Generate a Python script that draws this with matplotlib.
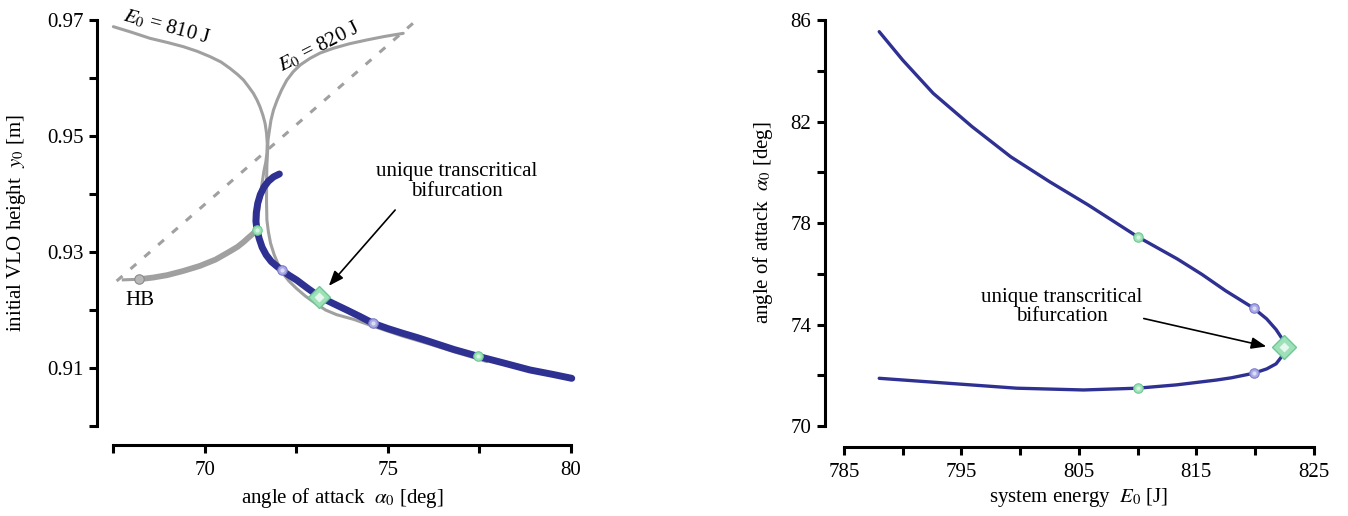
import matplotlib
matplotlib.use("Agg")
import matplotlib.pyplot as plt

plt.rcParams['font.family'] = ['Liberation Serif', 'DejaVu Serif']
plt.rcParams['mathtext.fontset'] = 'stix'

# ---- left panel data (angle of attack vs VLO height) ----
# E0 = 810 J branch, from the top left down to the transcritical curve
e810_alpha = [67.51, 68.0, 68.51, 69.0, 69.42, 69.8, 70.15, 70.45, 70.69, 70.9, 71.06, 71.2, 71.33, 71.43, 71.51, 71.59,
              71.65, 71.69, 71.71, 71.70, 71.67, 71.62, 71.56, 71.50, 71.46, 71.43]
e810_y = [0.96885, 0.96790, 0.96684, 0.96610, 0.96540, 0.96460, 0.96368, 0.96275, 0.96167, 0.96060, 0.95966, 0.95850,
          0.95736, 0.95620, 0.95506, 0.95360, 0.95219, 0.95050, 0.94874, 0.94700, 0.94550, 0.94400, 0.94150, 0.93850,
          0.93600, 0.93380]
# E0 = 820 J branch, from the top right down and along the transcritical curve
e820_alpha = [75.42, 74.9, 74.42, 73.95, 73.51, 73.15, 72.88, 72.62, 72.42, 72.24, 72.10, 71.98, 71.88, 71.81, 71.77,
              71.73, 71.72, 71.70, 71.69, 71.69, 71.70, 71.74, 71.80, 71.90, 72.00, 72.10, 72.30, 72.51, 72.75, 72.97,
              73.3, 73.6, 74.06, 74.6, 75.4, 76.15, 76.8, 77.5, 77.7]
e820_y = [0.96770, 0.96715, 0.96655, 0.96590, 0.96512, 0.96430, 0.96340, 0.96230, 0.96109, 0.95960, 0.95793, 0.95620,
          0.95448, 0.95270, 0.95103, 0.94930, 0.94759, 0.94500, 0.94200, 0.93850, 0.93550, 0.93350, 0.93150, 0.92950,
          0.92800, 0.92660, 0.92500, 0.92370, 0.92240, 0.92140, 0.92000, 0.91920, 0.91840, 0.91720, 0.91550, 0.91410,
          0.91280, 0.91150, 0.91110]
# stable branch from the Hopf bifurcation (HB)
hb_alpha = [68.22, 68.6, 68.97, 69.4, 69.87, 70.3, 70.69, 70.9, 71.06, 71.2, 71.33, 71.43]
hb_y = [0.9253, 0.9256, 0.9260, 0.9267, 0.9276, 0.9287, 0.9301, 0.9309, 0.9317, 0.9325, 0.9332, 0.9338]
hb_tail_alpha = [67.78, 68.22]
hb_tail_y = [0.9252, 0.9253]
# dashed reference line
dash_alpha = [67.6, 75.79]
dash_y = [0.9250, 0.9700]
# transcritical bifurcation curve
tc_alpha = [72.04, 71.88, 71.74, 71.62, 71.52, 71.45, 71.41, 71.40, 71.43, 71.49, 71.57, 71.68, 71.82, 71.96, 72.10,
            72.30, 72.51, 72.80, 73.13, 73.50, 73.88, 74.25, 74.60, 75.0, 75.4, 75.8, 76.15, 76.8, 77.47, 78.2, 78.88,
            79.5, 80.02]
tc_y = [0.94345, 0.94295, 0.94220, 0.94120, 0.93990, 0.93840, 0.93680, 0.93530, 0.93380, 0.93230, 0.93080, 0.92950,
        0.92835, 0.92760, 0.92690, 0.92600, 0.92517, 0.92380, 0.92230, 0.92115, 0.92000, 0.91885, 0.91770, 0.91680,
        0.91600, 0.91525, 0.91454, 0.91320, 0.91200, 0.91080, 0.90966, 0.90890, 0.90822]
green_left = ([71.43, 77.47], [0.9338, 0.9120])
purple_left = ([72.10, 74.60], [0.92690, 0.9177])
diamond_left = (73.13, 0.9223)
hb_point = (68.22, 0.9253)

# ---- right panel data (system energy vs angle of attack) ----
en_upper = [788.0, 790.0, 792.6, 795.9, 799.2, 802.5, 805.8, 810.0, 813.4, 815.5, 817.5, 819.9, 821.0, 821.8, 822.3, 822.5]
aoa_upper = [85.54, 84.42, 83.11, 81.80, 80.61, 79.63, 78.71, 77.46, 76.58, 75.97, 75.33, 74.64, 74.22, 73.80, 73.45, 73.10]
en_lower = [822.5, 822.3, 821.8, 821.0, 819.9, 818.0, 816.7, 813.3, 810.0, 805.4, 799.7, 794.0, 791.0, 788.0]
aoa_lower = [73.10, 72.75, 72.45, 72.25, 72.08, 71.90, 71.81, 71.62, 71.49, 71.42, 71.49, 71.68, 71.78, 71.88]
green_right = ([810.0, 810.0], [77.46, 71.49])
purple_right = ([819.9, 819.9], [74.64, 72.08])
diamond_right = (822.5, 73.10)

blue = '#2e3192'
grey = '#a0a0a0'
fs = 15

fig = plt.figure(figsize=(13.48, 5.16), dpi=100)
ax1 = fig.add_axes([97/1348, 90/516, 483/1348, 406/516])
ax2 = fig.add_axes([824.5/1348, 90/516, 497.5/1348, 406/516])


def style_axes(ax, xbounds, ybounds, xoff):
    for s in ['top', 'right']:
        ax.spines[s].set_visible(False)
    for s in ['left', 'bottom']:
        ax.spines[s].set_linewidth(2.2)
    ax.spines['bottom'].set_position(('outward', xoff))
    ax.spines['bottom'].set_bounds(*xbounds)
    ax.spines['left'].set_bounds(*ybounds)
    ax.tick_params(which='both', direction='out', length=5.5, width=2.2, labelsize=fs)
    ax.tick_params(axis='x', which='both', pad=6)
    ax.tick_params(axis='y', which='both', pad=4)


def dots(ax, xs, ys, face, edge):
    ax.plot(xs, ys, 'o', ms=6.8, mfc=face, mec=edge, mew=0.8, zorder=6, clip_on=False)
    ax.plot(xs, ys, 'o', ms=3, mfc='white', mec='none', alpha=0.6, zorder=7, clip_on=False)


def diamond(ax, x, y, size):
    ax.plot([x], [y], 'D', ms=size, mfc='#9ee0b8', mec='#6cc894', mew=1, zorder=8, clip_on=False)
    ax.plot([x], [y], 'D', ms=size * 0.45, mfc='#e6f8ee', mec='none', zorder=9, clip_on=False)


arrow_style = dict(arrowstyle='-|>,head_length=0.9,head_width=0.35', color='black', lw=1.2)

# ---- left panel ----
ax1.set_xlim(67.063, 80.245)
ax1.set_ylim(0.90, 0.97)
ax1.plot(dash_alpha, dash_y, color=grey, lw=2.2, ls=(0, (2.5, 3.5)), zorder=2, clip_on=False)
ax1.plot(e810_alpha, e810_y, color=grey, lw=2.2, zorder=3, clip_on=False, solid_capstyle='round', solid_joinstyle='round')
ax1.plot(e820_alpha, e820_y, color=grey, lw=2.2, zorder=3, clip_on=False, solid_capstyle='round', solid_joinstyle='round')
ax1.plot(hb_tail_alpha, hb_tail_y, color=grey, lw=2.2, zorder=3)
ax1.plot(hb_alpha, hb_y, color=grey, lw=4.2, zorder=3, solid_capstyle='round', solid_joinstyle='round')
ax1.plot(tc_alpha, tc_y, color=blue, lw=5, zorder=4, solid_capstyle='round', solid_joinstyle='round')
dots(ax1, *green_left, '#9fe2b8', '#6cc894')
dots(ax1, *purple_left, '#a9a9e6', '#7d7dc8')
ax1.plot([hb_point[0]], [hb_point[1]], 'o', ms=6.8, mfc='#b8b8b8', mec='#8a8a8a', mew=0.8, zorder=6)
diamond(ax1, *diamond_left, 11)

ax1.text(hb_point[0], 0.9217, 'HB', ha='center', va='center', fontsize=fs)
ax1.text(68.96, 0.9688, '$E_0$ = 810 J', rotation=-15, ha='center', va='center', fontsize=fs)
ax1.text(73.12, 0.9654, '$E_0$ = 820 J', rotation=27, ha='center', va='center', fontsize=fs)
ax1.text(76.89, 0.9422, 'unique transcritical\nbifurcation', ha='center', va='center',
         fontsize=fs, linespacing=1.05)
ax1.annotate('', xy=(73.34, 0.9238), xytext=(75.25, 0.9376), arrowprops=arrow_style)

ax1.set_xticks([70, 75, 80])
ax1.set_xticks([67.5, 72.5, 77.5], minor=True)
ax1.set_yticks([0.91, 0.93, 0.95, 0.97])
ax1.set_yticks([0.90, 0.92, 0.94, 0.96], minor=True)
ax1.set_yticklabels(['0.91', '0.93', '0.95', '0.97'])
style_axes(ax1, (67.5, 80), (0.90, 0.97), 13.7)
ax1.set_xlabel(r'angle of attack  $\alpha_0$ [deg]', fontsize=fs, va='center')
ax1.set_ylabel(r'initial VLO height  $y_0$ [m]', fontsize=fs, va='center')
ax1.xaxis.set_label_coords(0.509, -0.177)
ax1.yaxis.set_label_coords(-0.166, 0.5)

# ---- right panel ----
ax2.set_xlim(783.34, 825.71)
ax2.set_ylim(70, 86)
ax2.plot(en_upper, aoa_upper, color=blue, lw=2.4, zorder=4, solid_capstyle='round', solid_joinstyle='round')
ax2.plot(en_lower, aoa_lower, color=blue, lw=2.4, zorder=4, solid_capstyle='round', solid_joinstyle='round')
dots(ax2, *green_right, '#9fe2b8', '#6cc894')
dots(ax2, *purple_right, '#a9a9e6', '#7d7dc8')
diamond(ax2, *diamond_right, 12)
ax2.text(803.53, 74.69, 'unique transcritical\nbifurcation', ha='center', va='center',
         fontsize=fs, linespacing=1.05)
ax2.annotate('', xy=(821.2, 73.11), xytext=(810.3, 74.26), arrowprops=arrow_style)

ax2.set_xticks([785, 795, 805, 815, 825])
ax2.set_xticks([790, 800, 810, 820], minor=True)
ax2.set_yticks([70, 74, 78, 82, 86])
ax2.set_yticks([72, 76, 80, 84], minor=True)
style_axes(ax2, (785, 825), (70, 86), 15.1)
ax2.set_xlabel(r'system energy  $E_0$ [J]', fontsize=fs, va='center')
ax2.set_ylabel(r'angle of attack  $\alpha_0$ [deg]', fontsize=fs, va='center')
ax2.xaxis.set_label_coords(0.5116, -0.177)
ax2.yaxis.set_label_coords(-0.1236, 0.5)

fig.savefig('out.png', dpi=100)
